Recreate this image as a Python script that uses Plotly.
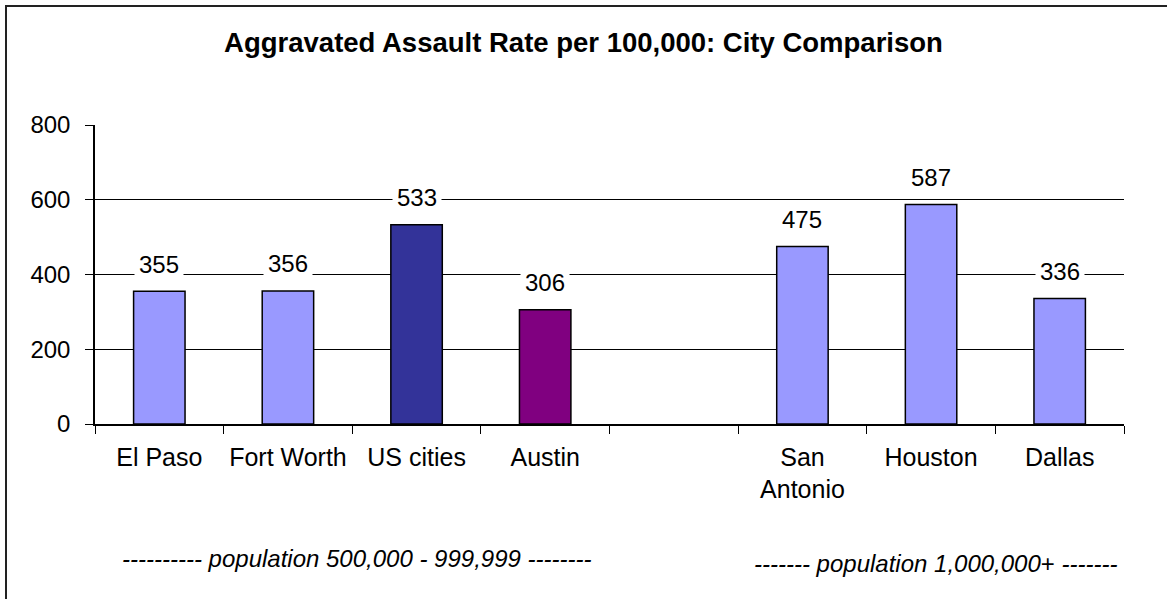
import plotly.graph_objects as go

categories = ["El Paso", "Fort Worth", "US cities", "Austin", " ", "San<br>Antonio", "Houston", "Dallas"]
values = [355, 356, 533, 306, None, 475, 587, 336]
bar_colors = ["#9999FF", "#9999FF", "#333399", "#800080", "#FFFFFF", "#9999FF", "#9999FF", "#9999FF"]
y_ticks = [0, 200, 400, 600, 800]
title_text = "Aggravated Assault Rate per 100,000: City Comparison"
note_left = "<i>---------- population 500,000 - 999,999 --------</i>"
note_right = "<i>------- population 1,000,000</i>+ <i>-------</i>"

W, H = 1167, 599
ML, MR, MT, MB = 95, 43, 125, 175
PW, PH = W - ML - MR, H - MT - MB

def px_x(px):
    return (px - ML) / PW

def px_y(py):
    return (H - MB - py) / PH

FONT = "Arial, Liberation Sans, sans-serif"

fig = go.Figure()
fig.add_trace(go.Bar(
    x=categories, y=values, width=0.4,
    marker=dict(color=bar_colors, line=dict(color="black", width=1.5)),
    hoverinfo="x+y",
))

for c, v in zip(categories, values):
    if v is None:
        continue
    fig.add_annotation(x=c, y=v, xref="x", yref="y", text=str(v), showarrow=False,
                       yshift=27, yanchor="middle", bgcolor="white", borderpad=4,
                       font=dict(family=FONT, size=24, color="black"))

fig.add_annotation(x=px_x(356), y=px_y(558), xref="paper", yref="paper", text=note_left,
                   showarrow=False, xanchor="center", yanchor="middle",
                   font=dict(family=FONT, size=24, color="black"))
fig.add_annotation(x=px_x(935), y=px_y(563), xref="paper", yref="paper", text=note_right,
                   showarrow=False, xanchor="center", yanchor="middle",
                   font=dict(family=FONT, size=24, color="black"))

fig.add_shape(type="rect", xref="paper", yref="paper",
              x0=px_x(6), x1=px_x(1175), y0=px_y(605), y1=px_y(6),
              line=dict(color="#222222", width=2), fillcolor="rgba(0,0,0,0)", layer="below")

fig.update_layout(
    width=W, height=H,
    margin=dict(l=ML, r=MR, t=MT, b=MB, pad=0, autoexpand=False),
    paper_bgcolor="white", plot_bgcolor="white",
    showlegend=False,
    bargap=0.6,
    title=dict(text="<b>" + title_text + "</b>", x=0.5, xanchor="center",
               y=1 - 42 / H, yanchor="middle", yref="container", xref="container",
               font=dict(family=FONT, size=27.5, color="black")),
    font=dict(family=FONT, size=24, color="black"),
)
fig.update_xaxes(type="category", categoryorder="array", categoryarray=categories,
                 tickson="boundaries", ticks="outside", ticklen=8, tickcolor="black",
                 showline=True, linecolor="black", linewidth=1.5, showgrid=False,
                 tickfont=dict(family=FONT, size=25, color="black"),
                 ticklabelstandoff=10, automargin=False)
fig.update_yaxes(range=[0, 800], tickvals=y_ticks, ticks="outside", ticklen=8, tickcolor="black",
                 showline=True, linecolor="black", linewidth=1.5,
                 showgrid=True, gridcolor="black", gridwidth=1, zeroline=False,
                 tickfont=dict(family=FONT, size=24, color="black"),
                 ticklabelstandoff=10, automargin=False)

fig.write_html("out.html", config={"displayModeBar": False},
               post_script="document.body.style.margin='0';document.body.style.overflow='hidden';")
